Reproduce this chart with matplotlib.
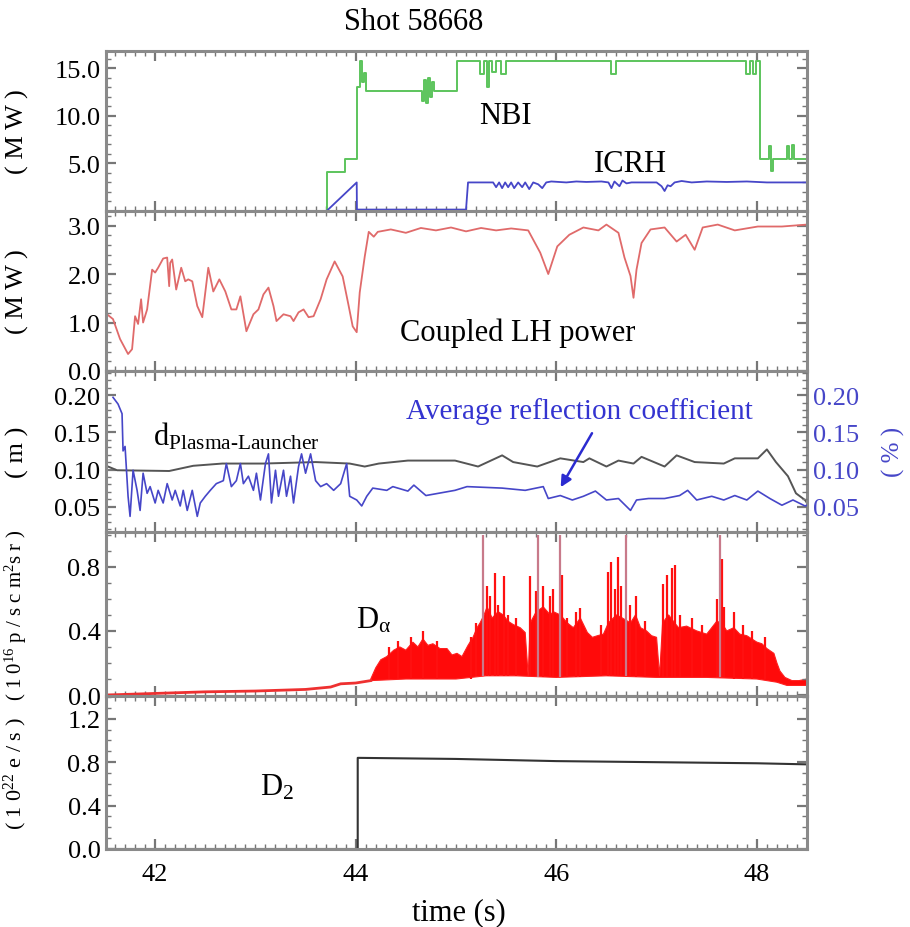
import numpy as np
import matplotlib
matplotlib.use("Agg")
import matplotlib.pyplot as plt
from matplotlib.ticker import MultipleLocator

plt.rcParams['font.family'] = ['Liberation Serif', 'DejaVu Serif']
plt.rcParams['mathtext.fontset'] = 'custom'
plt.rcParams['mathtext.rm'] = 'Liberation Serif'
plt.rcParams['mathtext.it'] = 'Liberation Serif:italic'

# ---------------- data ----------------
nbi_t = [43.70, 43.71, 43.89, 44.01, 44.04, 44.06, 44.08, 44.10, 44.66, 44.68, 44.70, 44.72, 44.74,
         44.76, 44.78, 45.01, 45.24, 45.28, 45.31, 45.33, 45.36, 45.40, 45.45, 45.50, 46.55,
         46.60, 47.89, 47.93, 47.96, 47.99, 48.03, 48.12, 48.14, 48.16, 48.30, 48.32, 48.35,
         48.37, 48.50]
nbi_v = [0.0, 4.1, 5.5, 13.0, 15.8, 13.5, 14.5, 12.6, 11.5, 13.8, 11.3, 14.0, 12.0,
         13.5, 12.6, 15.8, 14.4, 15.8, 13.0, 15.8, 14.6, 15.8, 14.4, 15.8, 14.4,
         15.8, 14.4, 15.8, 14.4, 15.8, 5.5, 6.8, 4.2, 5.5, 6.8, 5.5, 6.9,
         5.5, 5.5]

icrh_t = [43.71, 44.01, 44.012, 45.10, 45.12, 45.37, 45.40, 45.43, 45.46, 45.49, 45.52, 45.55,
          45.58, 45.62, 45.66, 45.69, 45.73, 45.77, 45.82, 45.86, 45.90, 45.95, 46.10, 46.20,
          46.30, 46.45, 46.52, 46.55, 46.58, 46.63, 46.66, 46.70, 46.75, 46.90, 47.00, 47.05,
          47.08, 47.11, 47.14, 47.18, 47.25, 47.35, 47.50, 47.70, 47.90, 48.10, 48.50]
icrh_v = [0.0, 3.0, 0.15, 0.15, 3.0, 3.0, 2.5, 3.0, 2.4, 3.0, 2.5, 3.0,
          2.4, 3.0, 2.5, 3.0, 2.3, 3.0, 2.8, 2.4, 3.0, 3.1, 3.0, 3.1,
          3.05, 3.1, 3.0, 2.4, 3.1, 2.6, 3.2, 2.9, 3.0, 3.0, 3.0, 2.6,
          2.1, 2.7, 2.6, 3.0, 3.15, 3.0, 3.1, 3.05, 3.1, 3.0, 3.0]

lh_t = [41.52, 41.58, 41.65, 41.73, 41.77, 41.80, 41.83, 41.86, 41.88, 41.92, 41.97, 42.00,
        42.03, 42.08, 42.12, 42.14, 42.15, 42.17, 42.21, 42.26, 42.30, 42.33, 42.37, 42.42,
        42.47, 42.53, 42.58, 42.64, 42.70, 42.76, 42.81, 42.85, 42.91, 42.98, 43.03, 43.08,
        43.13, 43.18, 43.21, 43.28, 43.35, 43.38, 43.43, 43.48, 43.53, 43.58, 43.65, 43.71,
        43.79, 43.87, 43.93, 43.97, 44.01, 44.04, 44.09, 44.13, 44.18, 44.22, 44.35, 44.50,
        44.65, 44.80, 44.95, 45.10, 45.25, 45.40, 45.55, 45.72, 45.84, 45.92, 46.01, 46.13,
        46.27, 46.42, 46.50, 46.62, 46.68, 46.74, 46.77, 46.80, 46.85, 46.94, 47.08, 47.20,
        47.29, 47.38, 47.46, 47.61, 47.78, 48.01, 48.25, 48.50]
lh_v = [1.17, 1.07, 0.66, 0.35, 0.45, 1.13, 0.97, 1.48, 1.00, 1.27, 2.09, 2.03,
        2.13, 2.32, 2.34, 1.75, 2.23, 2.30, 1.68, 2.13, 1.85, 1.89, 1.85, 1.34,
        1.11, 2.13, 1.64, 1.89, 1.64, 1.27, 1.27, 1.54, 0.82, 1.17, 1.27, 1.58,
        1.72, 1.34, 1.03, 1.17, 1.13, 1.03, 1.21, 1.27, 1.11, 1.13, 1.48, 1.89,
        2.26, 1.95, 1.34, 0.92, 0.80, 1.62, 2.36, 2.87, 2.77, 2.87, 2.92, 2.85,
        2.95, 2.90, 2.96, 2.88, 2.95, 2.90, 2.94, 2.90, 2.44, 2.00, 2.57, 2.81,
        2.96, 2.90, 3.02, 2.85, 2.34, 1.96, 1.51, 2.09, 2.64, 2.92, 2.96, 2.67,
        2.81, 2.50, 2.96, 3.02, 2.90, 2.98, 2.98, 3.02]

gap_t = [41.53, 41.62, 42.14, 42.38, 42.67, 43.08, 43.60, 43.94, 44.09, 44.23, 44.52, 44.99,
         45.22, 45.46, 45.57, 45.81, 46.04, 46.27, 46.33, 46.50, 46.62, 46.77, 46.85, 47.08,
         47.20, 47.38, 47.67, 47.78, 48.01, 48.10, 48.19, 48.31, 48.39, 48.48, 48.50]
gap_v = [0.104, 0.099, 0.098, 0.105, 0.108, 0.108, 0.110, 0.108, 0.104, 0.108, 0.112, 0.112,
         0.104, 0.119, 0.110, 0.104, 0.115, 0.110, 0.115, 0.104, 0.112, 0.108, 0.117, 0.104,
         0.119, 0.110, 0.108, 0.115, 0.115, 0.127, 0.110, 0.091, 0.068, 0.059, 0.055]

refl_t = [41.58, 41.63, 41.67, 41.68, 41.70, 41.73, 41.75, 41.78, 41.82, 41.85, 41.88, 41.92,
          41.95, 42.00, 42.03, 42.08, 42.12, 42.17, 42.20, 42.25, 42.28, 42.32, 42.37, 42.42,
          42.45, 42.50, 42.55, 42.61, 42.68, 42.71, 42.76, 42.81, 42.85, 42.88, 42.93, 42.98,
          43.01, 43.05, 43.10, 43.13, 43.16, 43.20, 43.23, 43.28, 43.31, 43.35, 43.38, 43.43,
          43.46, 43.50, 43.55, 43.60, 43.65, 43.71, 43.78, 43.85, 43.91, 43.94, 44.01, 44.06,
          44.11, 44.17, 44.31, 44.37, 44.52, 44.58, 44.70, 44.99, 45.11, 45.46, 45.69, 45.87,
          45.92, 46.04, 46.16, 46.27, 46.39, 46.50, 46.62, 46.74, 46.80, 46.92, 47.08, 47.23,
          47.31, 47.40, 47.55, 47.67, 47.78, 47.90, 48.01, 48.13, 48.25, 48.36, 48.48, 48.50]
refl_v = [0.197, 0.188, 0.175, 0.125, 0.131, 0.064, 0.037, 0.099, 0.072, 0.045, 0.095, 0.068,
          0.077, 0.055, 0.072, 0.055, 0.081, 0.059, 0.072, 0.051, 0.072, 0.045, 0.072, 0.037,
          0.055, 0.064, 0.072, 0.081, 0.085, 0.108, 0.077, 0.085, 0.108, 0.081, 0.091, 0.072,
          0.095, 0.059, 0.108, 0.121, 0.055, 0.099, 0.064, 0.099, 0.064, 0.091, 0.055, 0.104,
          0.121, 0.095, 0.121, 0.085, 0.077, 0.081, 0.072, 0.081, 0.108, 0.064, 0.059, 0.051,
          0.064, 0.075, 0.072, 0.077, 0.071, 0.079, 0.065, 0.072, 0.077, 0.075, 0.072, 0.077,
          0.061, 0.065, 0.059, 0.064, 0.071, 0.059, 0.061, 0.045, 0.059, 0.061, 0.061, 0.065,
          0.072, 0.059, 0.064, 0.059, 0.065, 0.059, 0.071, 0.061, 0.052, 0.059, 0.051, 0.052]

da_pre_t = [41.51, 42.00, 42.50, 43.00, 43.50, 43.75, 43.85, 44.00, 44.15]
da_pre_v = [0.000, 0.010, 0.020, 0.025, 0.035, 0.050, 0.070, 0.075, 0.090]

da_hi_t = [44.15, 44.20, 44.25, 44.31, 44.38, 44.44, 44.50, 44.57, 44.62, 44.67, 44.72, 44.77,
           44.84, 44.91, 44.96, 45.01, 45.06, 45.12, 45.17, 45.21, 45.24, 45.28, 45.31, 45.36,
           45.42, 45.47, 45.52, 45.57, 45.64, 45.69, 45.72, 45.74, 45.80, 45.87, 45.94, 45.97,
           46.04, 46.11, 46.17, 46.24, 46.31, 46.36, 46.41, 46.47, 46.52, 46.60, 46.66, 46.74,
           46.79, 46.84, 46.90, 46.95, 47.00, 47.03, 47.06, 47.12, 47.18, 47.22, 47.30, 47.40,
           47.50, 47.55, 47.60, 47.65, 47.70, 47.77, 47.83, 47.90, 48.00, 48.05, 48.10, 48.17,
           48.20, 48.23, 48.28, 48.35, 48.42, 48.50]
da_hi_v = [0.10, 0.17, 0.22, 0.24, 0.28, 0.30, 0.28, 0.33, 0.30, 0.35, 0.31, 0.32,
           0.29, 0.29, 0.25, 0.26, 0.24, 0.31, 0.36, 0.42, 0.45, 0.50, 0.55, 0.48,
           0.52, 0.50, 0.46, 0.44, 0.42, 0.39, 0.12, 0.45, 0.52, 0.55, 0.50, 0.52,
           0.50, 0.45, 0.42, 0.48, 0.39, 0.36, 0.37, 0.38, 0.45, 0.50, 0.48, 0.45,
           0.50, 0.42, 0.40, 0.37, 0.36, 0.12, 0.45, 0.50, 0.45, 0.42, 0.43, 0.40,
           0.38, 0.42, 0.46, 0.45, 0.40, 0.42, 0.38, 0.37, 0.33, 0.32, 0.29, 0.26,
           0.20, 0.15, 0.11, 0.09, 0.09, 0.10]
da_lo_t = [44.15, 44.50, 45.00, 45.30, 45.60, 46.00, 46.50, 47.00, 47.50, 48.00, 48.20, 48.30, 48.50]
da_lo_v = [0.09, 0.10, 0.10, 0.12, 0.12, 0.11, 0.12, 0.11, 0.11, 0.10, 0.08, 0.06, 0.06]

spike_t = [44.33, 44.42, 44.55, 44.67, 44.81, 45.15, 45.20, 45.31, 45.34, 45.39, 45.42, 45.48,
           45.52, 45.60, 45.74, 45.80, 45.87, 45.94, 45.97, 46.06, 46.11, 46.20, 46.24, 46.45,
           46.52, 46.55, 46.59, 46.62, 46.65, 46.74, 46.79, 46.88, 47.06, 47.10, 47.15, 47.18,
           47.23, 47.35, 47.45, 47.60, 47.65, 47.67, 47.77, 47.86, 47.95, 48.08]
spike_v = [0.30, 0.34, 0.36, 0.40, 0.34, 0.36, 0.45, 0.68, 0.62, 0.76, 0.56, 0.74,
           0.50, 0.48, 0.74, 0.65, 0.68, 0.62, 0.66, 0.75, 0.48, 0.52, 0.54, 0.44,
           0.77, 0.83, 0.66, 0.86, 0.68, 0.56, 0.62, 0.46, 0.69, 0.75, 0.79, 0.81,
           0.50, 0.48, 0.44, 0.60, 0.85, 0.55, 0.52, 0.44, 0.40, 0.36]
tall_t = [45.27, 45.82, 46.04, 46.70, 47.63]
tall_v = [1.0, 1.0, 1.0, 1.0, 1.0]

d2_t = [41.51, 44.02, 44.02, 45.0, 46.0, 47.0, 48.0, 48.5]
d2_v = [0.0, 0.0, 0.84, 0.83, 0.81, 0.80, 0.79, 0.78]

xticks = [42, 44, 46, 48]

# ---------------- figure ----------------
W, H = 910, 928
fig = plt.figure(figsize=(W / 100, H / 100), dpi=100)
left, right = 106, 807
bounds = [(52, 212), (212, 372), (372, 533), (533, 697), (697, 850)]
axes = []
for (t, b) in bounds:
    ax = fig.add_axes([left / W, 1 - b / H, (right - left) / W, (b - t) / H])
    axes.append(ax)

spine_c = '#8a8a8a'
FS = 19
GREEN = '#5cc45c'
BLUE = '#4646c8'
for ax in axes:
    ax.set_xlim(41.51, 48.5)
    ax.set_xticks(xticks)
    ax.xaxis.set_minor_locator(MultipleLocator(0.1))
    for s in ax.spines.values():
        s.set_color(spine_c)
        s.set_linewidth(2.2)
    ax.tick_params(which='both', direction='in', top=True, right=True, color='#777777',
                   labelsize=FS, pad=4)
    ax.tick_params(which='major', length=7, width=1.6)
    ax.tick_params(which='minor', length=3.5, width=1.0)
    ax.tick_params(axis='x', labelbottom=False)


def ftext(x, y, s, **kw):
    fig.text(x / W, 1 - y / H, s, **kw)


# Panel 1: NBI / ICRH
ax = axes[0]
ax.plot(nbi_t, nbi_v, color=GREEN, lw=1.4, drawstyle='steps-post')
ax.plot(icrh_t, icrh_v, color=BLUE, lw=1.3)
ax.set_ylim(0, 16.8)
ax.set_yticks([5, 10, 15])
ax.set_yticklabels(['5.0', '10.0', '15.0'])
ax.yaxis.set_minor_locator(MultipleLocator(1))
ax.set_ylabel('( M W )', fontsize=FS)

# Panel 2: LH power
ax = axes[1]
ax.plot(lh_t, lh_v, color='#e06a6a', lw=1.3)
ax.set_ylim(0, 3.3)
ax.set_yticks([0, 1, 2, 3])
ax.set_yticklabels(['0.0', '1.0', '2.0', '3.0'])
ax.yaxis.set_minor_locator(MultipleLocator(0.2))
ax.set_ylabel('( M W )', fontsize=FS)

# Panel 3: gap and reflection
ax = axes[2]
ax.plot(gap_t, gap_v, color='#555555', lw=1.4)
ax.set_ylim(0.016, 0.2324)
ax.set_yticks([0.05, 0.10, 0.15, 0.20])
ax.set_yticklabels(['0.05', '0.10', '0.15', '0.20'])
ax.yaxis.set_minor_locator(MultipleLocator(0.01))
ax.set_ylabel('( m )', fontsize=FS)
ax.tick_params(axis='y', right=False, which='both')
axr = ax.twinx()
axr.plot(refl_t, refl_v, color=BLUE, lw=1.2)
axr.set_ylim(0.016, 0.2324)
axr.set_xlim(41.51, 48.5)
axr.set_yticks([0.05, 0.10, 0.15, 0.20])
axr.set_yticklabels(['0.05', '0.10', '0.15', '0.20'])
axr.yaxis.set_minor_locator(MultipleLocator(0.01))
axr.tick_params(which='both', direction='in', color='#777777', labelsize=FS,
                labelcolor=BLUE, pad=4)
axr.tick_params(which='major', length=7, width=1.6)
axr.tick_params(which='minor', length=3.5, width=1.0)
for s in axr.spines.values():
    s.set_visible(False)
ax.annotate('', xy=(46.03, 0.073), xytext=(46.37, 0.152),
            arrowprops=dict(arrowstyle='-|>', color='#2b2bd0', lw=1.8, mutation_scale=16))
ftext(893, 452, '( % )', fontsize=18, color=BLUE, rotation=90, ha='center', va='center')

# Panel 4: D-alpha
ax = axes[3]
ax.plot(da_pre_t, da_pre_v, color='#ee3030', lw=2.0)
ax.fill(list(da_hi_t) + list(da_lo_t[::-1]), list(da_hi_v) + list(da_lo_v[::-1]),
        color='#ff0a0a', lw=0.8, ec='#ff2020')
lo_for_spikes = [da_lo_v[min(range(len(da_lo_t)), key=lambda i: abs(da_lo_t[i] - t))] for t in spike_t]
ax.vlines(spike_t, lo_for_spikes, spike_v, color='#ff1010', lw=1.6)
lo_tall = [da_lo_v[min(range(len(da_lo_t)), key=lambda i: abs(da_lo_t[i] - t))] for t in tall_t]
ax.vlines(tall_t, lo_tall, tall_v, color='#c87a8a', lw=1.6)
ax.set_ylim(-0.006, 1.017)
ax.set_yticks([0.0, 0.4, 0.8])
ax.set_yticklabels(['0.0', '0.4', '0.8'])
ax.yaxis.set_minor_locator(MultipleLocator(0.1))
ax.set_ylabel('( 1 0$^{16}$ p / s c m$^{2}$s r )', fontsize=15)

# Panel 5: D2
ax = axes[4]
ax.plot(d2_t, d2_v, color='#333333', lw=1.5)
ax.set_ylim(0, 1.41)
ax.set_yticks([0.0, 0.4, 0.8, 1.2])
ax.set_yticklabels(['0.0', '0.4', '0.8', '1.2'])
ax.yaxis.set_minor_locator(MultipleLocator(0.1))
ax.set_ylabel('( 1 0$^{22}$ e / s )', fontsize=16)
ax.tick_params(axis='x', labelbottom=True, labelsize=FS, pad=10)
ax.set_xticklabels([str(v) for v in xticks])

for ax in axes:
    ax.yaxis.set_label_coords(-0.11, 0.5)

ftext(414, 22, 'Shot 58668', fontsize=22, ha='center', va='center')
ftext(505, 117, 'NBI', fontsize=22, ha='center', va='center')
ftext(630, 164, 'ICRH', fontsize=22, ha='center', va='center')
ftext(518, 333, 'Coupled LH power', fontsize=22, ha='center', va='center')
ftext(579, 412, 'Average reflection coefficient', fontsize=21, ha='center', va='center',
      color='#3434d0')
ftext(153, 437, r'd$_{\mathrm{Plasma\text{-}Launcher}}$', fontsize=22, ha='left', va='center')
ftext(356, 621, r'D$_{\mathrm{\alpha}}$', fontsize=22, ha='left', va='center')
ftext(260, 788, r'D$_{2}$', fontsize=22, ha='left', va='center')
ftext(459, 913, 'time (s)', fontsize=22, ha='center', va='center')

fig.savefig('out.png', dpi=100)
